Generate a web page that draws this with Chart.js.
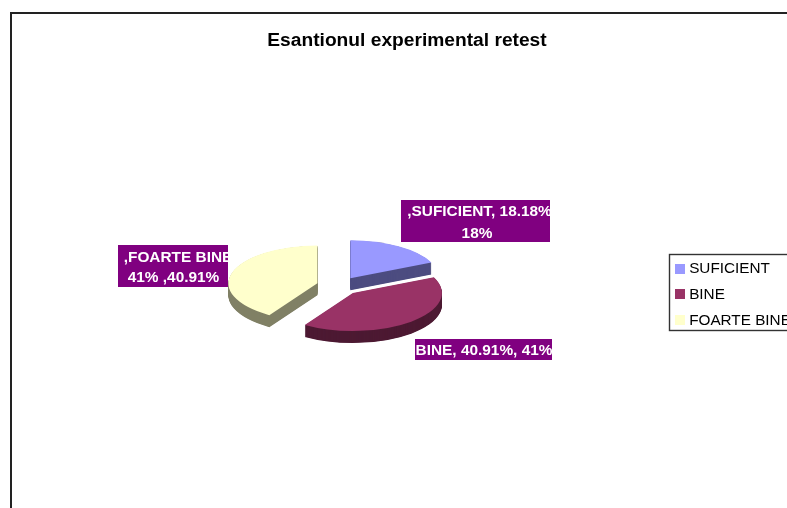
<!DOCTYPE html>
<html>
<head>
<meta charset="utf-8">
<style>
html,body{margin:0;padding:0;width:787px;height:508px;overflow:hidden;background:#fff}
#wrap{position:absolute;left:0;top:0;width:814px;height:560px}
canvas{display:block}
</style>
<script src="https://cdn.jsdelivr.net/npm/chart.js@4"></script>
</head>
<body>
<div id="wrap"><canvas id="c" width="814" height="560"></canvas></div>
<script>
const categories = ["SUFICIENT", "BINE", "FOARTE BINE"];
const percentages = [18.18, 40.91, 40.91];
const sliceColors = ["#9999FF", "#993366", "#FFFFCC"];
const sideColors = ["#4D4D80", "#4D1A33", "#808066"];
const chartTitle = "Esantionul experimental retest";
const dataLabelLines = [
  [",SUFICIENT, 18.18%", "18%"],
  ["BINE, 40.91%, 41%"],
  [",FOARTE BINE", "41% ,40.91%"]
];

const FONT = '"Liberation Sans", Arial, sans-serif';
const PIE = {cx: 338.5, cy: 286, radius: 89, explode: 22, tilt: 0.425, depth: 12};
const LABEL_BOXES = [
  {x: 401, y: 200, w: 149, h: 42, cx: [479.5, 477], lines: [212, 233.5]},
  {x: 415, y: 339, w: 137, h: 21, cx: [484], lines: [350.5]},
  {x: 118, y: 245, w: 110, h: 42, cx: [178, 173.5], lines: [257.5, 277.5]}
];
const LEGEND_BOX = {x: 669.5, y: 254.5, w: 140, h: 76, markerX: 675, markerSize: 10};

const tiltPlugin = {
  id: 'tilt',
  beforeDatasetsDraw(chart) {
    const ctx = chart.ctx;
    const arcs = chart.getDatasetMeta(0).data;
    const pushOut = (arc) => {
      const mid = (arc.startAngle + arc.endAngle) / 2;
      ctx.translate(Math.cos(mid) * PIE.explode, Math.sin(mid) * PIE.explode);
    };
    ctx.save();
    ctx.translate(PIE.cx, PIE.cy);
    ctx.scale(1, PIE.tilt);
    ctx.translate(-arcs[0].x, -arcs[0].y);
    arcs.forEach((arc, i) => {
      const saved = arc.options;
      arc.options = Object.assign({}, saved, {backgroundColor: sideColors[i], borderWidth: 0});
      for (let d = PIE.depth; d >= 0.5; d -= 0.5) {
        ctx.save();
        ctx.translate(0, d / PIE.tilt);
        pushOut(arc);
        arc.draw(ctx);
        ctx.restore();
      }
      arc.options = saved;
    });
    arcs.forEach((arc) => {
      ctx.save();
      pushOut(arc);
      arc.draw(ctx);
      ctx.restore();
    });
    ctx.restore();
    return false;
  }
};

const framePlugin = {
  id: 'frame',
  afterLayout(chart) {
    const lg = chart.legend;
    lg.left = LEGEND_BOX.markerX - 10;
    lg.right = lg.left + lg.width;
    lg.top = 251;
    lg.bottom = lg.top + lg.height;
  },
  beforeDraw(chart) {
    const ctx = chart.ctx;
    ctx.save();
    ctx.fillStyle = '#fff';
    ctx.fillRect(0, 0, chart.width, chart.height);
    ctx.strokeStyle = '#222';
    ctx.lineWidth = 2;
    ctx.strokeRect(11, 13, 790, 600);
    ctx.lineWidth = 1.4;
    ctx.strokeStyle = '#333';
    ctx.strokeRect(LEGEND_BOX.x, LEGEND_BOX.y, LEGEND_BOX.w, LEGEND_BOX.h);
    ctx.restore();
  },
  afterDraw(chart) {
    const ctx = chart.ctx;
    ctx.save();
    chart.legend.legendItems.forEach((it, i) => {
      ctx.fillStyle = sliceColors[i];
      ctx.fillRect(LEGEND_BOX.markerX, [264, 289, 315][i], LEGEND_BOX.markerSize, LEGEND_BOX.markerSize);
    });
    LABEL_BOXES.forEach((b, i) => {
      ctx.save();
      ctx.beginPath();
      ctx.rect(b.x, b.y, b.w, b.h);
      ctx.fillStyle = '#800080';
      ctx.fill();
      ctx.clip();
      ctx.fillStyle = '#fff';
      ctx.font = 'bold 15.4px ' + FONT;
      ctx.textAlign = 'center';
      ctx.textBaseline = 'middle';
      dataLabelLines[i].forEach((t, j) => ctx.fillText(t, b.cx[j], b.lines[j]));
      ctx.restore();
    });
    ctx.restore();
  }
};

new Chart(document.getElementById('c'), {
  type: 'pie',
  data: {
    labels: categories,
    datasets: [{
      data: percentages,
      backgroundColor: sliceColors,
      borderWidth: 0,
      hoverOffset: 0
    }]
  },
  options: {
    responsive: false,
    animation: false,
    radius: PIE.radius,
    events: [],
    plugins: {
      tooltip: {enabled: false},
      title: {
        display: true,
        text: chartTitle,
        color: '#000',
        font: {family: FONT, size: 19.2, weight: 'bold'},
        padding: {top: 29, bottom: 10}
      },
      legend: {
        position: 'right',
        align: 'start',
        labels: {
          color: '#000',
          font: {family: FONT, size: 15.3},
          boxWidth: 6,
          boxHeight: 10,
          padding: 10.5,
          generateLabels(chart) {
            return categories.map((name, i) => ({
              text: name, fillStyle: 'rgba(0,0,0,0)', strokeStyle: 'rgba(0,0,0,0)',
              lineWidth: 0, index: i
            }));
          }
        }
      }
    }
  },
  plugins: [tiltPlugin, framePlugin]
});
</script>
</body>
</html>
